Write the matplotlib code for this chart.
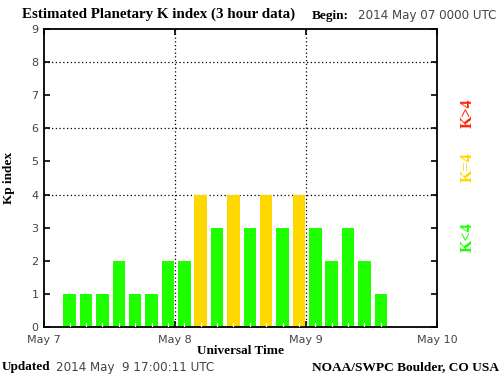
import matplotlib
matplotlib.use("Agg")
import matplotlib.pyplot as plt
import numpy as np

# Data: 3-hour Kp values starting 2014 May 7 00 UT
kp_values = [0, 1, 1, 1, 2, 1, 1, 2,
             2, 4, 3, 4, 3, 4, 3, 4,
             3, 2, 3, 2, 1]
day_labels = ["May 7", "May 8", "May 9", "May 10"]
y_ticks = list(range(10))

GREEN = "#1eff00"
YELLOW = "#ffd800"
RED = "#ff2a10"

fig = plt.figure(figsize=(5, 3.75), dpi=100)
ax = fig.add_axes([44/500, 1 - 327/375, (437-44)/500, (327-29)/375])

hours = np.arange(len(kp_values)) * 3
colors = [GREEN if v < 4 else (YELLOW if v == 4 else RED) for v in kp_values]

# grid
for yv in [4, 6, 8]:
    ax.axhline(yv, color="black", lw=0.9, ls=(0, (1, 2.0)), zorder=1)
for xv in [24, 48]:
    ax.axvline(xv, color="black", lw=0.9, ls=(0, (1, 2.0)), zorder=1)

ax.bar(hours + 0.55, kp_values, width=2.3, align="edge", color=colors,
       edgecolor="none", zorder=2)

# small white ticks at bar centres
for h, v in zip(hours, kp_values):
    if v > 0:
        ax.plot([h + 1.7, h + 1.7], [0, 0.13], color="white", lw=0.9, zorder=3)

ax.set_xlim(0, 72)
ax.set_ylim(0, 9)
ax.set_xticks([0, 24, 48, 72])
ax.set_xticklabels(day_labels, fontsize=8, color="#444444")
ax.set_yticks(y_ticks)
ax.set_yticklabels([str(t) for t in y_ticks], fontsize=8, color="#444444")
ax.tick_params(axis="both", direction="in", length=4, width=1.2,
               top=True, right=True, pad=4)
ax.tick_params(axis="x", pad=6)
for s in ax.spines.values():
    s.set_linewidth(1.3)

ax.set_xlabel("Universal Time", family="Liberation Serif", fontweight="bold",
              fontsize=9.5, labelpad=0)
ax.set_ylabel("Kp index", family="Liberation Serif", fontweight="bold",
              fontsize=9.5, labelpad=12)

def ftext(x, y, s, **kw):
    fig.text(x / 500, 1 - y / 375, s, **kw)

ftext(22, 14, "Estimated Planetary K index (3 hour data)",
      family="Liberation Serif", fontsize=10.8, fontweight="bold",
      va="center", ha="left")
ftext(312, 16, "Begin:", family="Liberation Serif", fontsize=9.5,
      fontweight="bold", va="center", ha="left")
ftext(358, 16, "2014 May 07 0000 UTC", fontsize=8.6, color="#444444",
      va="center", ha="left")
ftext(2, 367, "Updated", fontsize=9.5, family="Liberation Serif",
      fontweight="bold", va="center", ha="left")
ftext(56, 367, "2014 May  9 17:00:11 UTC", fontsize=8.6, color="#444444",
      va="center", ha="left")
ftext(499, 367, "NOAA/SWPC Boulder, CO USA", fontsize=9.6,
      family="Liberation Serif", fontweight="bold", va="center", ha="right")

ftext(468, 113, "K>4", color=RED, rotation=90, family="Liberation Serif",
      fontsize=11.5, fontweight="bold", va="center", ha="center")
ftext(468, 167, "K=4", color=YELLOW, rotation=90, family="Liberation Serif",
      fontsize=11.5, fontweight="bold", va="center", ha="center")
ftext(468, 237, "K<4", color=GREEN, rotation=90, family="Liberation Serif",
      fontsize=11.5, fontweight="bold", va="center", ha="center")

fig.savefig("out.png", dpi=100)
